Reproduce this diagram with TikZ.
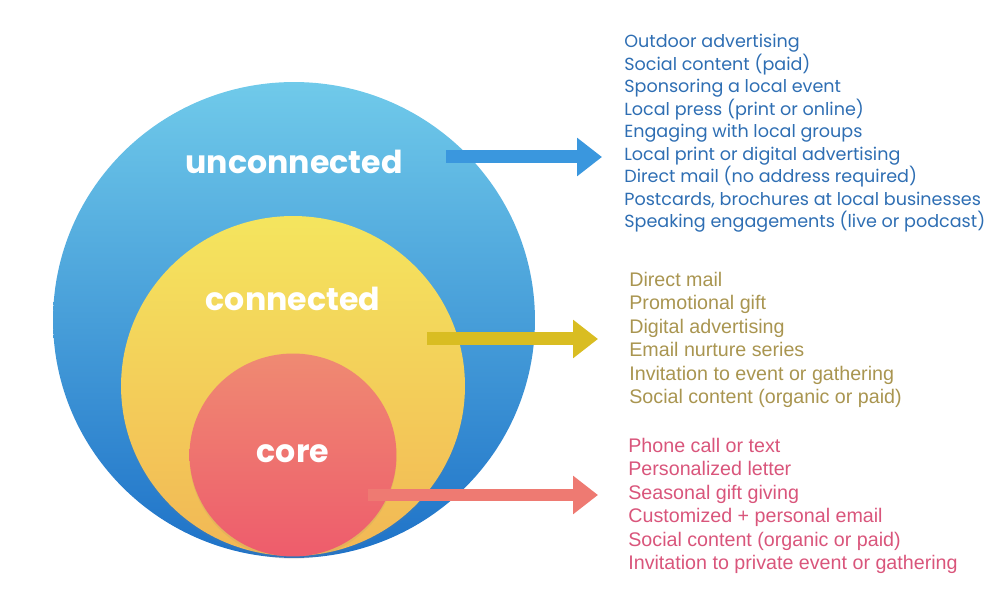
\documentclass[tikz,border=0pt]{standalone}
\usepackage{fontspec}
\setmainfont{Liberation Sans}
\newfontfamily\roundfont{Poppins}
\usetikzlibrary{shapes.geometric,arrows.meta,shadows}

\definecolor{blueTop}{HTML}{70CAEA}
\definecolor{blueBot}{HTML}{1E72C8}
\definecolor{yellowTop}{HTML}{F4E55E}
\definecolor{yellowBot}{HTML}{F2B755}
\definecolor{redTop}{HTML}{EF8A72}
\definecolor{redBot}{HTML}{EE5C6C}
\definecolor{blueArrow}{HTML}{3A97DE}
\definecolor{yellowArrow}{HTML}{D9BD22}
\definecolor{redArrow}{HTML}{EE7A72}
\definecolor{blueText}{HTML}{2E6EB3}
\definecolor{yellowText}{HTML}{A99550}
\definecolor{redText}{HTML}{D9557B}

\tikzset{
    ring/.style={ellipse, inner sep=0pt, draw=none},
    innerring/.style={ring,
        drop shadow={opacity=0.12, shadow xshift=0pt, shadow yshift=-1.5pt}},
    ringlabel/.style={text=white, font=\roundfont\bfseries\fontsize{18}{18}\selectfont},
    fatarrow/.style={line width=0.26cm, -{Triangle[length=0.5cm, width=0.74cm]}},
    itemlist/.style={anchor=north west, inner sep=0pt, align=left},
}

\begin{document}
\begin{tikzpicture}[x=0.02cm, y=-0.02cm]
    \useasboundingbox (0,0) rectangle (1000,614);

    % unconnected
    \node[ring, minimum width=9.64cm, minimum height=9.52cm,
        top color=blueTop, bottom color=blueBot] (outer) at (294,320) {};
    \node[ringlabel] (outerlbl) at (294,162) {unconnected};

    % connected
    \node[innerring, minimum width=6.88cm, minimum height=6.80cm,
        top color=yellowTop, bottom color=yellowBot] (middle) at (293,386) {};
    \node[ringlabel] (middlelbl) at (293,299) {connected};

    % core
    \node[innerring, minimum width=4.14cm, minimum height=4.06cm,
        top color=redTop, bottom color=redBot] (inner) at (293,455) {};
    \node[ringlabel] (innerlbl) at (293,454) {core};

    % Lists
    \node[itemlist, text=blueText, font=\roundfont\fontsize{10}{12.8}\selectfont] (outerlist) at (624,34) {
        Outdoor advertising \\
        Social content (paid) \\
        Sponsoring a local event \\
        Local press (print or online) \\
        Engaging with local groups \\
        Local print or digital advertising \\
        Direct mail (no address required) \\
        Postcards, brochures at local businesses \\
        Speaking engagements (live or podcast)
    };
    \node[itemlist, text=yellowText, font=\fontsize{11.2}{13.3}\selectfont] (middlelist) at (629,272) {
        Direct mail \\
        Promotional gift \\
        Digital advertising \\
        Email nurture series \\
        Invitation to event or gathering \\
        Social content (organic or paid)
    };
    \node[itemlist, text=redText, font=\fontsize{11.2}{13.3}\selectfont] (innerlist) at (628,438) {
        Phone call or text \\
        Personalized letter \\
        Seasonal gift giving \\
        Customized + personal email \\
        Social content (organic or paid) \\
        Invitation to private event or gathering
    };

    % Arrows
    \coordinate (outerfrom) at (446,157);
    \coordinate (outerto) at (602,157);
    \coordinate (middlefrom) at (427,339);
    \coordinate (middleto) at (598,339);
    \coordinate (innerfrom) at (368,495);
    \coordinate (innerto) at (598,495);
    \draw[fatarrow, blueArrow] (outerfrom) -- (outerto);
    \draw[fatarrow, yellowArrow] (middlefrom) -- (middleto);
    \draw[fatarrow, redArrow] (innerfrom) -- (innerto);
\end{tikzpicture}
\end{document}
